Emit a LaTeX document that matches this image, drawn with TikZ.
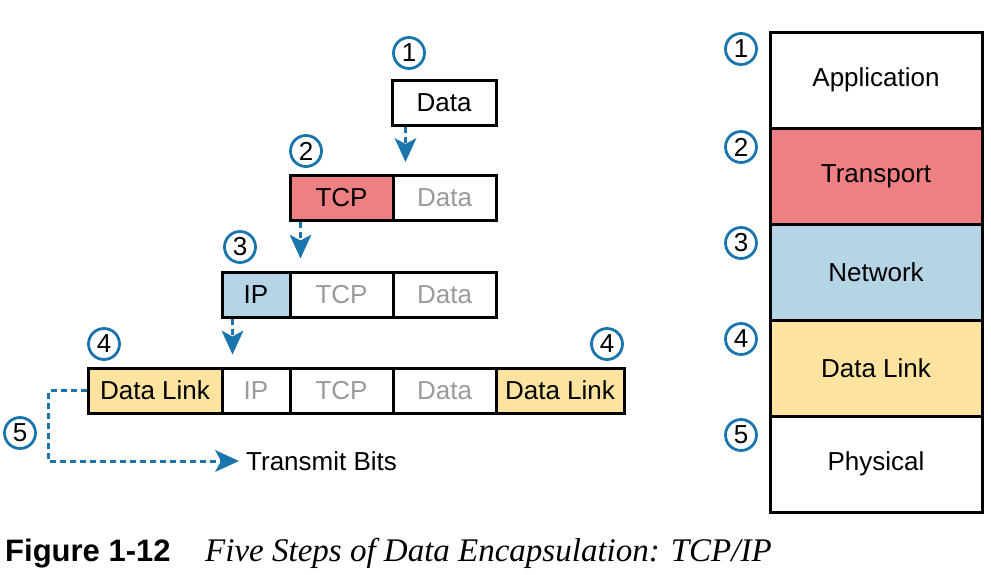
\documentclass[tikz,border=0pt]{standalone}
\usepackage{fontspec}
\setmainfont{Liberation Sans}
\newfontfamily\capserif{Liberation Serif}
\usetikzlibrary{arrows.meta,calc}
\definecolor{tcpred}{HTML}{EE7F83}
\definecolor{ipblue}{HTML}{B5D4E6}
\definecolor{dlyellow}{HTML}{FCE3A0}
\definecolor{numblue}{HTML}{1A75AD}
\definecolor{grayt}{HTML}{9A9A9A}
\tikzset{
  box/.style={draw=black, line width=3pt, inner sep=0pt, minimum height=45pt, font=\fontsize{26}{28}\selectfont},
  stackbox/.style={draw=black, line width=3pt, inner sep=0pt, minimum width=212pt, minimum height=96pt, font=\fontsize{26}{28}\selectfont},
  num/.style={circle, draw=numblue, line width=2.8pt, minimum size=31pt, inner sep=0pt, font=\fontsize{26}{28}\selectfont},
  arr/.style={numblue, line width=3pt, dash pattern=on 6pt off 4pt, -{Stealth[width=22pt,length=24pt,inset=6pt,line width=0pt]}},
}
\begin{document}
\begin{tikzpicture}[x=1pt,y=-1pt]
\useasboundingbox (0,0) rectangle (991,574);
% row 1
\node[box, minimum width=104pt] (d1) at (444,102.5) {Data};
\node[num] (c1) at (409,53) {1};
% row 2
\node[box, minimum width=103pt, fill=tcpred] (t2) at (341.5,198) {TCP};
\node[box, minimum width=103pt, text=grayt] (d2) at (444.5,198) {Data};
\node[num] (c2) at (306,151) {2};
% row 3
\node[box, minimum width=68pt, fill=ipblue] (i3) at (256,294.5) {IP};
\node[box, minimum width=103pt, text=grayt] (t3) at (341.5,294.5) {TCP};
\node[box, minimum width=103pt, text=grayt] (d3) at (444.5,294.5) {Data};
\node[num] (c3) at (240,247) {3};
% row 4
\node[box, minimum width=134pt, fill=dlyellow] (l4) at (155,390.5) {Data Link};
\node[box, minimum width=68pt, text=grayt] (i4) at (256,390.5) {IP};
\node[box, minimum width=103pt, text=grayt] (t4) at (341.5,390.5) {TCP};
\node[box, minimum width=103pt, text=grayt] (d4) at (444.5,390.5) {Data};
\node[box, minimum width=128pt, fill=dlyellow] (r4) at (560,390.5) {Data Link};
\node[num] (c4a) at (104,344) {4};
\node[num] (c4b) at (607,344) {4};
\node[num] (c5) at (20,433) {5};
\node[anchor=west, inner sep=0pt, font=\fontsize{26}{28}\selectfont] (tb) at (246,461) {Transmit Bits};
% arrows
\coordinate (a1s) at ($(d1.south west)+(15,0)$);
\coordinate (a1e) at (a1s |- t2.north);
\coordinate (a2s) at ($(t2.south west)+(12,0)$);
\coordinate (a2e) at (a2s |- i3.north);
\coordinate (a3s) at ($(i3.south west)+(12,0)$);
\coordinate (a3e) at (a3s |- l4.north);
\coordinate (a4m) at ($(l4.west)+(-38,0)$);
\draw[arr, shorten >=12pt] (a1s) -- (a1e);
\draw[arr, shorten >=12pt] (a2s) -- (a2e);
\draw[arr, shorten >=12pt] (a3s) -- (a3e);
\draw[arr, shorten >=7pt] (l4.west) -- (a4m) |- (tb.west);
% right stack
\node[stackbox] (app) at (876,80) {Application};
\node[stackbox, fill=tcpred] (tra) at (876,176) {Transport};
\node[stackbox, fill=ipblue] (net) at (876,272) {Network};
\node[stackbox, fill=dlyellow] (dl) at (876,368) {Data Link};
\node[stackbox] (phy) at (876,464) {Physical};
\node[num] (s1) at (741,49) {1};
\node[num] (s2) at (741,147) {2};
\node[num] (s3) at (741,243) {3};
\node[num] (s4) at (741,339) {4};
\node[num] (s5) at (741,435) {5};
% caption
\node[anchor=base west, inner sep=0pt, font=\fontsize{31}{32}\selectfont\bfseries] (fig) at (5,561) {Figure 1-12};
\node[anchor=base west, inner sep=0pt, font=\capserif\fontsize{33}{35}\selectfont\itshape] (cap) at (205,561) {Five Steps of Data Encapsulation: TCP/IP};
\end{tikzpicture}
\end{document}
